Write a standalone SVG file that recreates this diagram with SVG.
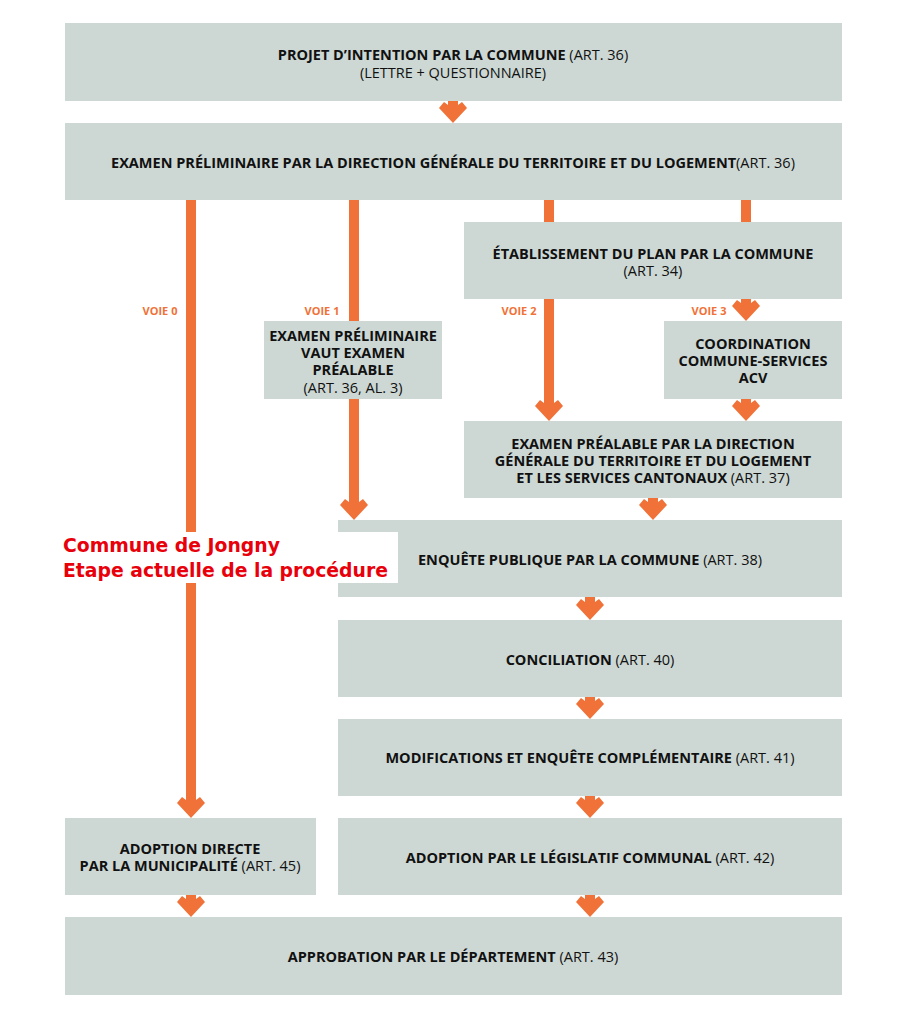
<svg xmlns="http://www.w3.org/2000/svg" width="907" height="1024" viewBox="0 0 907 1024">
<style>
.box{fill:#CDD8D4}
.t{font-family:"Open Sans","Liberation Sans",sans-serif;font-size:14.5px;fill:#111;text-anchor:middle}
.b{font-weight:bold}
.r{font-weight:normal}
.arr{fill:#F07238}
.voie{font-family:"Open Sans","Liberation Sans",sans-serif;font-size:11px;font-weight:bold;fill:#F07238;text-anchor:middle}
.red{font-family:"DejaVu Sans",sans-serif;font-size:18.8px;font-weight:bold;fill:#E8000B}
</style>
<rect width="907" height="1024" fill="#fff"/>
<g id="connectors">
<polygon class="arr" points="448,101 458,101 458,105 462,102 467,108 453,123 439,108 444,102 448,105"/>
<polygon class="arr" points="186,200 196,200 196,800 200,797 205,803 191,818 177,803 182,797 186,800"/>
<polygon class="arr" points="349,200 359,200 359,502 363,499 368,505 354,520 340,505 345,499 349,502"/>
<rect class="arr" x="544" y="200" width="10" height="22"/>
<rect class="arr" x="741" y="200" width="10" height="22"/>
<polygon class="arr" points="544,299 554,299 554,403 558,400 563,406 549,421 535,406 540,400 544,403"/>
<polygon class="arr" points="741,299 751,299 751,303 755,300 760,306 746,321 732,306 737,300 741,303"/>
<polygon class="arr" points="741,399 751,399 751,403 755,400 760,406 746,421 732,406 737,400 741,403"/>
<polygon class="arr" points="648,498 658,498 658,502 662,499 667,505 653,520 639,505 644,499 648,502"/>
<polygon class="arr" points="585,597 595,597 595,602 599,599 604,605 590,620 576,605 581,599 585,602"/>
<polygon class="arr" points="585,697 595,697 595,701 599,698 604,704 590,719 576,704 581,698 585,701"/>
<polygon class="arr" points="585,796 595,796 595,800 599,797 604,803 590,818 576,803 581,797 585,800"/>
<polygon class="arr" points="186,895 196,895 196,899 200,896 205,902 191,917 177,902 182,896 186,899"/>
<polygon class="arr" points="585,895 595,895 595,899 599,896 604,902 590,917 576,902 581,896 585,899"/>
<text class="voie" x="160" y="315">VOIE 0</text>
<text class="voie" x="322" y="315">VOIE 1</text>
<text class="voie" x="519" y="315">VOIE 2</text>
<text class="voie" x="709" y="315">VOIE 3</text>
</g>
<g id="n1"><rect class="box" x="65" y="23" width="777" height="78"/>
<text class="t" x="453" y="60"><tspan class="b">PROJET D’INTENTION PAR LA COMMUNE </tspan><tspan class="r">(ART. 36)</tspan></text>
<text class="t r" x="453" y="78">(LETTRE + QUESTIONNAIRE)</text></g>
<g id="n2"><rect class="box" x="65" y="123" width="777" height="77"/>
<text class="t" x="453" y="168"><tspan class="b">EXAMEN PRÉLIMINAIRE PAR LA DIRECTION GÉNÉRALE DU TERRITOIRE ET DU LOGEMENT</tspan><tspan class="r">(ART. 36)</tspan></text></g>
<g id="n3"><rect class="box" x="464" y="222" width="378" height="77"/>
<text class="t b" x="653" y="259">ÉTABLISSEMENT DU PLAN PAR LA COMMUNE</text>
<text class="t r" x="653" y="276">(ART. 34)</text></g>
<g id="n4"><rect class="box" x="264" y="321" width="178" height="78"/>
<text class="t b" x="353" y="341">EXAMEN PRÉLIMINAIRE</text>
<text class="t b" x="353" y="358">VAUT EXAMEN</text>
<text class="t b" x="353" y="375">PRÉALABLE</text>
<text class="t r" x="353" y="393">(ART. 36, AL. 3)</text></g>
<g id="n5"><rect class="box" x="664" y="321" width="178" height="78"/>
<text class="t b" x="753" y="349">COORDINATION</text>
<text class="t b" x="753" y="366">COMMUNE-SERVICES</text>
<text class="t b" x="753" y="383">ACV</text></g>
<g id="n6"><rect class="box" x="464" y="421" width="378" height="77"/>
<text class="t b" x="653" y="449">EXAMEN PRÉALABLE PAR LA DIRECTION</text>
<text class="t b" x="653" y="466">GÉNÉRALE DU TERRITOIRE ET DU LOGEMENT</text>
<text class="t" x="653" y="483"><tspan class="b">ET LES SERVICES CANTONAUX </tspan><tspan class="r">(ART. 37)</tspan></text></g>
<g id="n7"><rect class="box" x="338" y="520" width="504" height="77"/>
<text class="t" x="590" y="565"><tspan class="b">ENQUÊTE PUBLIQUE PAR LA COMMUNE </tspan><tspan class="r">(ART. 38)</tspan></text></g>
<g id="n8"><rect class="box" x="338" y="620" width="504" height="77"/>
<text class="t" x="590" y="665"><tspan class="b">CONCILIATION </tspan><tspan class="r">(ART. 40)</tspan></text></g>
<g id="n9"><rect class="box" x="338" y="719" width="504" height="77"/>
<text class="t" x="590" y="763"><tspan class="b">MODIFICATIONS ET ENQUÊTE COMPLÉMENTAIRE </tspan><tspan class="r">(ART. 41)</tspan></text></g>
<g id="n10"><rect class="box" x="65" y="818" width="251" height="77"/>
<text class="t b" x="190" y="854">ADOPTION DIRECTE</text>
<text class="t" x="190" y="871"><tspan class="b">PAR LA MUNICIPALITÉ </tspan><tspan class="r">(ART. 45)</tspan></text></g>
<g id="n11"><rect class="box" x="338" y="818" width="504" height="77"/>
<text class="t" x="590" y="863"><tspan class="b">ADOPTION PAR LE LÉGISLATIF COMMUNAL </tspan><tspan class="r">(ART. 42)</tspan></text></g>
<g id="n12"><rect class="box" x="65" y="917" width="777" height="78"/>
<text class="t" x="453" y="962"><tspan class="b">APPROBATION PAR LE DÉPARTEMENT </tspan><tspan class="r">(ART. 43)</tspan></text></g>
<g id="label"><rect x="40" y="532" width="358" height="51" fill="#fff"/>
<text class="red" x="63" y="552">Commune de Jongny</text>
<text class="red" x="63" y="577">Etape actuelle de la procédure</text></g>
</svg>
